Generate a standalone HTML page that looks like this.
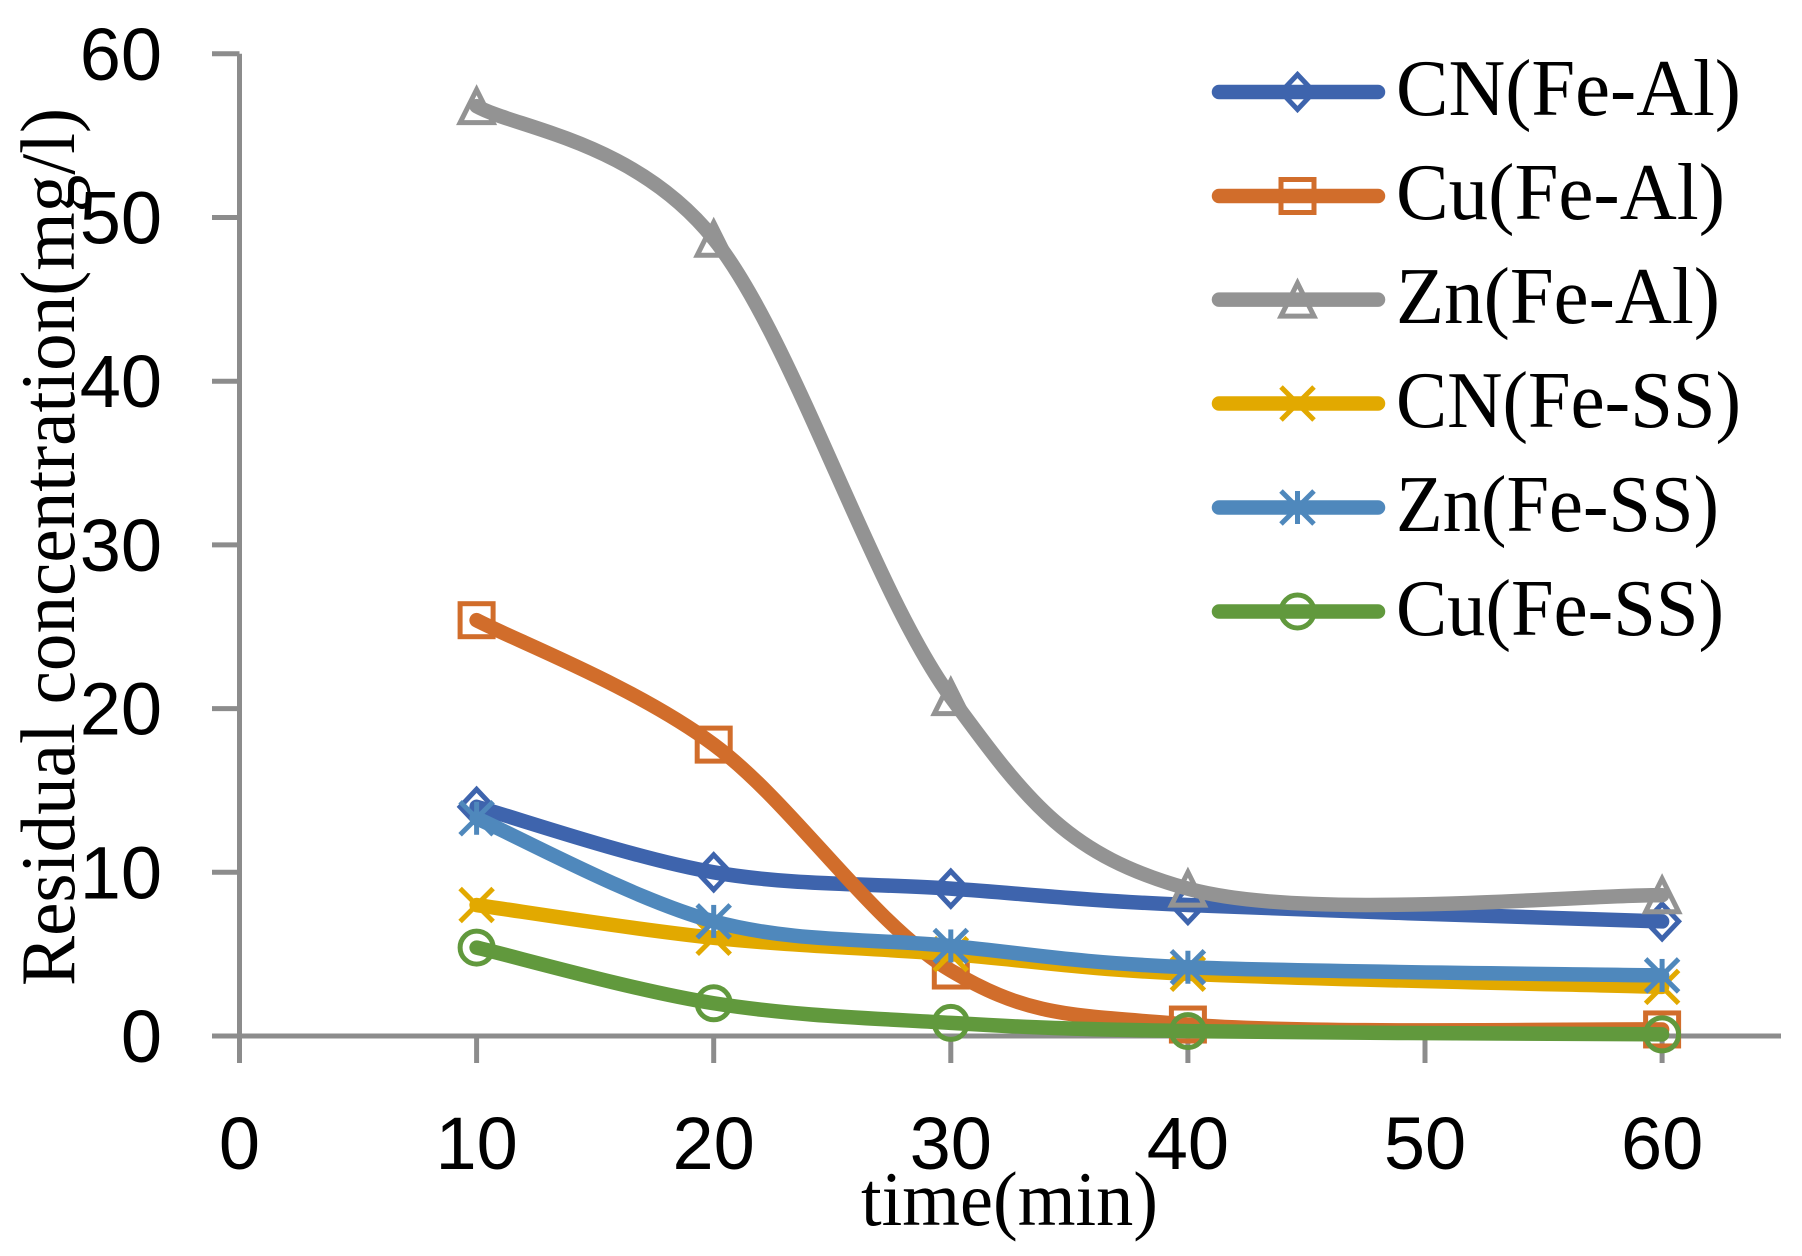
<!DOCTYPE html>
<html lang="en">
<head>
<meta charset="utf-8">
<title>Residual concentration over time</title>
<style>
  html, body { margin: 0; padding: 0; background: #fff; }
  body { width: 1802px; height: 1256px; overflow: hidden; }
  svg { display: block; }
  .tick { font-family: "Liberation Sans", sans-serif; font-size: 74px; fill: #000; }
  .title, .legend-text { font-family: "Liberation Serif", serif; fill: #000; }
  .title { font-size: 77px; }
  .legend-text { font-size: 80px; }
</style>
</head>
<body>
<svg id="chart" xmlns="http://www.w3.org/2000/svg" width="1802" height="1256" viewBox="0 0 1802 1256">
  <g id="axes"></g>
  <g id="marks"></g>
  <g id="legend-marks"></g>
  <text class="title" transform="translate(74 986) rotate(-90)" textLength="878" lengthAdjust="spacingAndGlyphs">Residual concentration(mg/l)</text>
  <text class="title" x="861" y="1225" textLength="297" lengthAdjust="spacingAndGlyphs">time(min)</text>
  <text class="legend-text" x="1396" y="115" textLength="345" lengthAdjust="spacingAndGlyphs">CN(Fe-Al)</text>
  <text class="legend-text" x="1396" y="219" textLength="329" lengthAdjust="spacingAndGlyphs">Cu(Fe-Al)</text>
  <text class="legend-text" x="1396" y="323" textLength="324" lengthAdjust="spacingAndGlyphs">Zn(Fe-Al)</text>
  <text class="legend-text" x="1396" y="427" textLength="345" lengthAdjust="spacingAndGlyphs">CN(Fe-SS)</text>
  <text class="legend-text" x="1396" y="531" textLength="323" lengthAdjust="spacingAndGlyphs">Zn(Fe-SS)</text>
  <text class="legend-text" x="1396" y="635" textLength="328" lengthAdjust="spacingAndGlyphs">Cu(Fe-SS)</text>
</svg>
<script>
const times = [10, 20, 30, 40, 60];
const xTickLabels = [0, 10, 20, 30, 40, 50, 60];
const yTickLabels = [0, 10, 20, 30, 40, 50, 60];
const cnFeAl = [14, 10, 9, 8, 7];
const cuFeAl = [25.4, 17.8, 4, 0.7, 0.4];
const znFeAl = [56.8, 48.7, 20.7, 9, 8.6];
const cnFeSs = [8, 6, 5, 3.8, 3];
const znFeSs = [13.3, 7, 5.5, 4.2, 3.7];
const cuFeSs = [5.4, 2, 0.8, 0.3, 0.1];

const NS = 'http://www.w3.org/2000/svg';
const AXIS_COLOR = '#8c8c8c';
const xAxis = v => 239.5 + v * 23.71;
const yAxis = v => 1036 - v * 16.37;

function make(parent, tag, attrs) {
  const el = document.createElementNS(NS, tag);
  for (const k in attrs) el.setAttribute(k, attrs[k]);
  parent.appendChild(el);
  return el;
}

const axes = document.getElementById('axes');
const yLine = make(axes, 'line', {x1: xAxis(0), x2: xAxis(0), y1: yAxis(60), y2: 1063, stroke: AXIS_COLOR, 'stroke-width': 5});


const xLine = make(axes, 'line', {x1: 212, x2: 1781, y1: yAxis(0), y2: yAxis(0), stroke: AXIS_COLOR, 'stroke-width': 5});



yTickLabels.forEach(v => {
  const t = make(axes, 'line', {x1: 212, x2: xAxis(0), y1: yAxis(v), y2: yAxis(v), stroke: AXIS_COLOR, 'stroke-width': 5});
  
  
  const l = make(axes, 'text', {class: 'tick', x: 162, y: yAxis(v) + 26, 'text-anchor': 'end'});
  
  
  l.textContent = v;
});
xTickLabels.forEach(v => {
  const t = make(axes, 'line', {x1: xAxis(v), x2: xAxis(v), y1: yAxis(0), y2: 1063, stroke: AXIS_COLOR, 'stroke-width': 5});
  
  
  const l = make(axes, 'text', {class: 'tick', x: xAxis(v), y: 1169, 'text-anchor': 'middle'});
  
  
  l.textContent = v;
});

function drawMarker(parent, kind, cx, cy, color) {
  const g = make(parent, 'g', {fill: 'none', stroke: color, 'stroke-width': 5, 'stroke-linejoin': 'miter'});
  
  
  const r = 16.5;
  if (kind === 'diamond') make(g, 'path', {d: `M${cx} ${cy-r-1}L${cx+r} ${cy}L${cx} ${cy+r+1}L${cx-r} ${cy}Z`});
  if (kind === 'square') make(g, 'rect', {x: cx-r, y: cy-r, width: 2*r, height: 2*r});
  if (kind === 'triangle') make(g, 'path', {d: `M${cx} ${cy-r}L${cx+r} ${cy+r}L${cx-r} ${cy+r}Z`});
  if (kind === 'circle') make(g, 'circle', {cx: cx, cy: cy, r: r});
  if (kind === 'cross' || kind === 'star') {
    make(g, 'line', {x1: cx-r, y1: cy-r, x2: cx+r, y2: cy+r});
    make(g, 'line', {x1: cx-r, y1: cy+r, x2: cx+r, y2: cy-r});
  }
  if (kind === 'star') make(g, 'line', {x1: cx, y1: cy-r, x2: cx, y2: cy+r});
}

function smoothPath(pts) {
  let d = `M${pts[0][0]} ${pts[0][1]}`;
  for (let i = 0; i < pts.length - 1; i++) {
    const p0 = pts[Math.max(i - 1, 0)], p1 = pts[i], p2 = pts[i + 1], p3 = pts[Math.min(i + 2, pts.length - 1)];
    const c1x = p1[0] + (p2[0] - p0[0]) / 6, c1y = p1[1] + (p2[1] - p0[1]) / 6;
    const c2x = p2[0] - (p3[0] - p1[0]) / 6, c2y = p2[1] - (p3[1] - p1[1]) / 6;
    d += `C${c1x} ${c1y} ${c2x} ${c2y} ${p2[0]} ${p2[1]}`;
  }
  return d;
}

const LINE_W = 14.5;
const marks = document.getElementById('marks');
const legendMarks = document.getElementById('legend-marks');

function drawSeries(name, values, color, kind, legendY) {
  const g = make(marks, 'g', {});
  
  
  const pts = values.map((v, i) => [xAxis(times[i]), yAxis(v)]);
  pts.forEach(p => drawMarker(g, kind, p[0], p[1], color));
  const path = make(g, 'path', {d: smoothPath(pts), fill: 'none', stroke: color, 'stroke-width': LINE_W, 'stroke-linecap': 'round', 'stroke-linejoin': 'round'});
  
  

  const k = make(legendMarks, 'g', {});
  
  
  drawMarker(k, kind, 1297.5, legendY, color);
  make(k, 'line', {x1: 1219, x2: 1378, y1: legendY, y2: legendY, stroke: color, 'stroke-width': 14.5, 'stroke-linecap': 'round'});
}

drawSeries('cn-fe-al', cnFeAl, '#3e64ad', 'diamond', 92);
drawSeries('cu-fe-al', cuFeAl, '#d16d2b', 'square', 196);
drawSeries('zn-fe-al', znFeAl, '#939393', 'triangle', 299.6);
drawSeries('cn-fe-ss', cnFeSs, '#e2a900', 'cross', 403.5);
drawSeries('zn-fe-ss', znFeSs, '#4f88bc', 'star', 507.5);
drawSeries('cu-fe-ss', cuFeSs, '#61993d', 'circle', 611.5);
</script>
</body>
</html>
